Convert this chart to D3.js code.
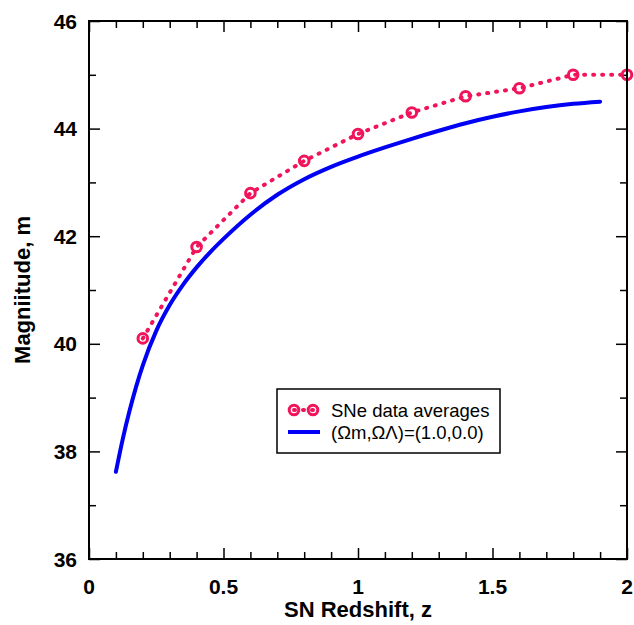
<!DOCTYPE html>
<html>
<head>
<meta charset="utf-8">
<script src="https://cdn.jsdelivr.net/npm/d3@7"></script>
<style>
  html, body { margin: 0; padding: 0; background: #fff; }
  svg { display: block; font-family: "Liberation Sans", Arial, sans-serif; }
</style>
</head>
<body>
<svg id="chart" width="634" height="625"></svg>
<script>
// Supernova averages (redshift vs. apparent magnitude)
const snRedshift = [0.2, 0.4, 0.6, 0.8, 1.0, 1.2, 1.4, 1.6, 1.8, 2.0];
const snMagnitude = [40.1, 41.8, 42.8, 43.4, 43.9, 44.3, 44.6, 44.75, 45.0, 45.0];

// Model curve for (Ωm, ΩΛ) = (1.0, 0.0)
const modelRedshift = [0.10, 0.125, 0.15, 0.175, 0.20, 0.25, 0.30, 0.35, 0.40, 0.45, 0.50,
  0.60, 0.70, 0.80, 0.90, 1.00, 1.10, 1.20, 1.30, 1.40, 1.50, 1.60, 1.70, 1.80, 1.90];
const modelMagnitude = [37.62, 38.22, 38.74, 39.20, 39.60, 40.24, 40.72, 41.10, 41.42, 41.70, 41.95,
  42.40, 42.77, 43.06, 43.29, 43.48, 43.65, 43.81, 43.96, 44.10, 44.22, 44.32, 44.40, 44.46, 44.50];

const xMajorTicks = [0, 0.5, 1, 1.5, 2];
const xTickLabels = ["0", "0.5", "1", "1.5", "2"];
const yMajorTicks = [36, 38, 40, 42, 44, 46];
const yTickLabels = ["36", "38", "40", "42", "44", "46"];

const legendLabels = ["SNe data averages", "(Ωm,ΩΛ)=(1.0,0.0)"];
const xTitle = "SN Redshift, z";
const yTitle = "Magniitude, m";

const pink = "#f0145a";
const blue = "#0000f5";

const svg = d3.select("#chart");
const plot = { left: 89, right: 627, top: 21, bottom: 559 };

const x = d3.scaleLinear().domain([0, 2]).range([plot.left, plot.right]);
const y = d3.scaleLinear().domain([36, 46]).range([plot.bottom, plot.top]);

const xMinor = d3.range(0, 2.0001, 0.1).map(v => +v.toFixed(2)).filter(v => !xMajorTicks.some(t => Math.abs(t - v) < 1e-6));
const yMinor = d3.range(37, 46, 2);

// Axes with inward ticks on all four sides
function drawAxis(axisGen, transform) {
  const g = svg.append("g").attr("transform", transform).call(axisGen);
  g.select(".domain").remove();
  g.selectAll("line").attr("stroke", "#000").attr("stroke-width", 1.5);
  return g;
}

const majorLen = 11, minorLen = 7;

// bottom
drawAxis(d3.axisTop(x).tickValues(xMinor).tickSize(minorLen).tickFormat(""), `translate(0,${plot.bottom})`);
drawAxis(d3.axisTop(x).tickValues(xMajorTicks).tickSize(majorLen).tickFormat(""), `translate(0,${plot.bottom})`);
// top
drawAxis(d3.axisBottom(x).tickValues(xMinor).tickSize(minorLen).tickFormat(""), `translate(0,${plot.top})`);
drawAxis(d3.axisBottom(x).tickValues(xMajorTicks).tickSize(majorLen).tickFormat(""), `translate(0,${plot.top})`);
// left
drawAxis(d3.axisRight(y).tickValues(yMinor).tickSize(minorLen).tickFormat(""), `translate(${plot.left},0)`);
drawAxis(d3.axisRight(y).tickValues(yMajorTicks).tickSize(majorLen).tickFormat(""), `translate(${plot.left},0)`);
// right
drawAxis(d3.axisLeft(y).tickValues(yMinor).tickSize(minorLen).tickFormat(""), `translate(${plot.right},0)`);
drawAxis(d3.axisLeft(y).tickValues(yMajorTicks).tickSize(majorLen).tickFormat(""), `translate(${plot.right},0)`);

// Tick labels
svg.append("g").selectAll("text").data(xMajorTicks).join("text")
  .attr("x", d => x(d)).attr("y", plot.bottom + 35)
  .attr("text-anchor", "middle").attr("font-size", 21).attr("font-weight", "bold")
  .text((d, i) => xTickLabels[i]);

svg.append("g").selectAll("text").data(yMajorTicks).join("text")
  .attr("x", plot.left - 12).attr("y", d => y(d) + 7.5)
  .attr("text-anchor", "end").attr("font-size", 21).attr("font-weight", "bold")
  .text((d, i) => yTickLabels[i]);

// Axis titles
svg.append("text")
  .attr("x", (plot.left + plot.right) / 2).attr("y", 617)
  .attr("text-anchor", "middle").attr("font-size", 22).attr("font-weight", "bold")
  .text(xTitle);

svg.append("text")
  .attr("transform", `translate(30,${(plot.top + plot.bottom) / 2}) rotate(-90)`)
  .attr("text-anchor", "middle").attr("font-size", 22).attr("font-weight", "bold")
  .text(yTitle);

// Model curve
const line = d3.line().x(d => x(d[0])).y(d => y(d[1])).curve(d3.curveMonotoneX);
svg.append("path")
  .datum(d3.zip(modelRedshift, modelMagnitude))
  .attr("d", line)
  .attr("fill", "none").attr("stroke", blue).attr("stroke-width", 4).attr("stroke-linecap", "round");

// Data averages: dotted line with hollow markers
const snData = d3.zip(snRedshift, snMagnitude);
svg.append("path")
  .datum(snData)
  .attr("d", d3.line().x(d => x(d[0])).y(d => y(d[1])))
  .attr("fill", "none").attr("stroke", pink).attr("stroke-width", 4)
  .attr("stroke-dasharray", "1,8").attr("stroke-linecap", "round");

svg.append("g").selectAll("circle").data(snData).join("circle")
  .attr("cx", d => x(d[0])).attr("cy", d => y(d[1])).attr("r", 4.8)
  .attr("fill", "none").attr("stroke", pink).attr("stroke-width", 3);

// Frame
svg.append("rect")
  .attr("x", plot.left).attr("y", plot.top)
  .attr("width", plot.right - plot.left).attr("height", plot.bottom - plot.top)
  .attr("fill", "none").attr("stroke", "#000").attr("stroke-width", 2);

// Legend
const lg = svg.append("g");
lg.append("rect").attr("x", 277).attr("y", 389).attr("width", 223).attr("height", 64)
  .attr("fill", "#fff").attr("stroke", "#000").attr("stroke-width", 1.5);
lg.append("line").attr("x1", 294).attr("x2", 313).attr("y1", 410).attr("y2", 410)
  .attr("stroke", pink).attr("stroke-width", 4).attr("stroke-dasharray", "1,8").attr("stroke-linecap", "round");
lg.selectAll("circle").data([294, 313]).join("circle")
  .attr("cx", d => d).attr("cy", 410).attr("r", 4.8)
  .attr("fill", "none").attr("stroke", pink).attr("stroke-width", 3);
lg.append("line").attr("x1", 288).attr("x2", 320).attr("y1", 432).attr("y2", 432)
  .attr("stroke", blue).attr("stroke-width", 4);
lg.selectAll("text").data(legendLabels).join("text")
  .attr("x", 331).attr("y", (d, i) => 417 + i * 22)
  .attr("font-size", 18.5)
  .text(d => d);
</script>
</body>
</html>
